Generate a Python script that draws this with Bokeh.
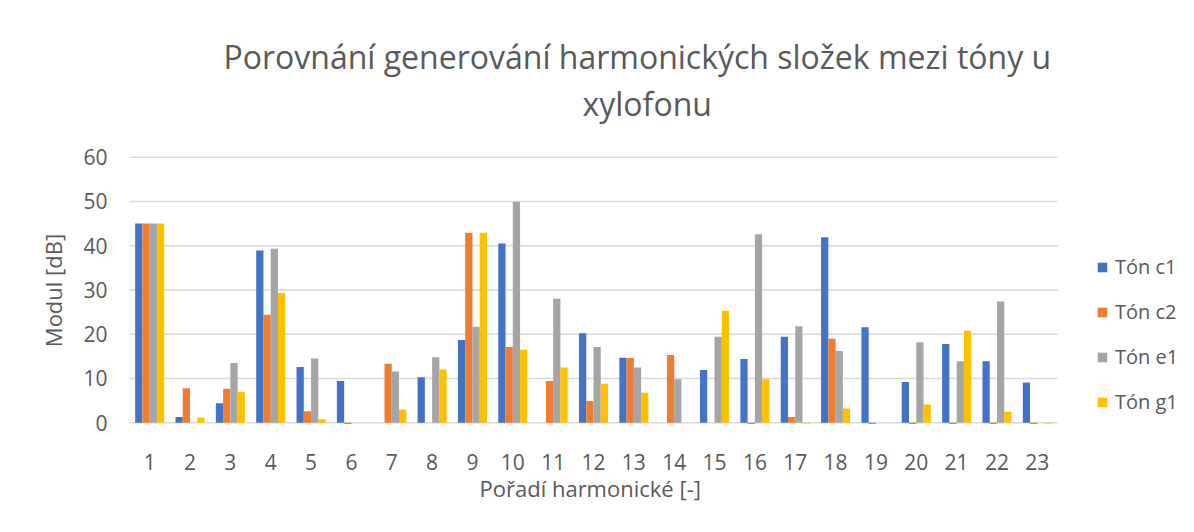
from bokeh.plotting import figure
from bokeh.models import (ColumnDataSource, Range1d, FixedTicker,
                          Legend, LegendItem, Title)
from bokeh.transform import dodge
from bokeh.embed import file_html
from bokeh.resources import INLINE

categories = [str(i) for i in range(1, 24)]
ton_c1 = [45.0, 1.3, 4.4, 38.9, 12.6, 9.4, 0, 10.3, 18.7, 40.5, 0, 20.2, 14.7, 0, 11.9, 14.4, 19.4, 41.9, 21.6, 9.2, 17.8, 13.9, 9.1]
ton_c2 = [45.0, 7.8, 7.7, 24.4, 2.6, -0.3, 13.3, 0, 42.9, 17.1, 9.4, 4.9, 14.6, 15.3, 0, -0.3, 1.3, 19.0, -0.3, -0.3, -0.3, -0.3, -0.3]
ton_e1 = [45.0, 0, 13.5, 39.3, 14.5, 0, 11.6, 14.8, 21.7, 49.9, 28.0, 17.1, 12.5, 9.8, 19.4, 42.6, 21.8, 16.2, 0, 18.2, 13.9, 27.4, 0]
ton_g1 = [45.0, 1.1, 7.0, 29.3, 0.8, 0, 3.0, 12.0, 42.9, 16.5, 12.5, 8.8, 6.8, 0, 25.3, 9.8, -0.2, 3.2, 0, 4.1, 20.8, 2.5, -0.2]
series_names = ["Tón c1", "Tón c2", "Tón e1", "Tón g1"]
colors = ["#4472C4", "#ED7D31", "#A5A5A5", "#FFC000"]
y_ticks = [0, 10, 20, 30, 40, 50, 60]
title_lines = ["Porovnání generování harmonických složek mezi tóny u", "xylofonu"]
x_label = "Pořadí harmonické [-]"
y_label = "Modul [dB]"

FONT = "Open Sans"
TXT = "#595959"
GRID = "#d9d9d9"

x_pos = list(range(1, len(categories) + 1))
src = ColumnDataSource(dict(x=x_pos, c1=ton_c1, c2=ton_c2, e1=ton_e1, g1=ton_g1))

W, H = 1186, 524
LEFT, RIGHT, TOP, BOTTOM = 129, 2, 156, 100
cat_px = 928 / len(categories)              # pixel width of one category slot
x_end = 0.5 + (W - LEFT - RIGHT) / cat_px   # extra room on the right holds the legend

p = figure(width=W, height=H, x_range=Range1d(0.5, x_end),
           y_range=Range1d(-0.4, 60.15), output_backend="svg", toolbar_location=None,
           min_border_left=LEFT, min_border_right=RIGHT, min_border_top=TOP,
           min_border_bottom=BOTTOM)
p.outline_line_color = None
p.background_fill_color = "white"
p.border_fill_color = "white"
p.xgrid.grid_line_color = None
p.ygrid.grid_line_color = None

# horizontal gridlines spanning the category area only
p.segment(x0=[x_pos[0] - 0.5] * len(y_ticks), x1=[x_pos[-1] + 0.5] * len(y_ticks),
          y0=y_ticks, y1=y_ticks, line_color=GRID, line_width=1.5)

cols = ["c1", "c2", "e1", "g1"]
offsets = [-0.27, -0.09, 0.09, 0.27]
renderers = []
for col, off, c in zip(cols, offsets, colors):
    r = p.vbar(x=dodge("x", off), top=col, width=0.18, source=src,
               fill_color=c, line_color=None)
    renderers.append(r)

p.xaxis.ticker = FixedTicker(ticks=x_pos)
p.xaxis.major_label_overrides = {x: c for x, c in zip(x_pos, categories)}
p.yaxis.ticker = FixedTicker(ticks=y_ticks)
for ax in (p.xaxis[0], p.yaxis[0]):
    ax.axis_line_color = None
    ax.major_tick_line_color = None
    ax.minor_tick_line_color = None
    ax.major_tick_out = 0
    ax.major_tick_in = 0
    ax.minor_tick_out = 0
    ax.minor_tick_in = 0
    ax.major_label_text_font = FONT
    ax.major_label_text_font_size = "21px"
    ax.major_label_text_color = TXT
    ax.axis_label_text_font = FONT
    ax.axis_label_text_font_size = "22px"
    ax.axis_label_text_color = TXT
    ax.axis_label_text_font_style = "normal"
p.yaxis.axis_label = y_label
p.xaxis.major_label_standoff = 29
p.yaxis.major_label_standoff = 22
p.yaxis.axis_label_standoff = 12

# x axis title centred under the category area
p.add_layout(Title(text=x_label, align="left", offset=350, vertical_align="top",
                   text_font=FONT, text_font_size="22px", text_font_style="normal",
                   text_color=TXT, standoff=0), "below")

# chart title (two lines); an invisible spacer keeps the gap above the plot area
p.title.text = title_lines[0]
p.title.align = "left"
p.title.offset = 94
p.title.text_font = FONT
p.title.text_font_size = "32px"
p.title.text_font_style = "normal"
p.title.text_color = TXT
p.title.standoff = 2
p.add_layout(Title(text=".", text_font_size="2px", text_color="white", standoff=28), "above")
p.add_layout(Title(text=title_lines[1], align="left", offset=453,
                   text_font=FONT, text_font_size="32px", text_font_style="normal",
                   text_color=TXT, standoff=2), "above")

legend = Legend(items=[LegendItem(label=n, renderers=[r]) for n, r in zip(series_names, renderers)],
                location=(967, 9), orientation="vertical",
                glyph_width=12, glyph_height=12, label_height=27, spacing=18,
                label_text_font=FONT, label_text_font_size="20px", label_text_color=TXT,
                border_line_color=None, background_fill_alpha=0, padding=0, margin=0,
                label_standoff=7)
p.add_layout(legend, "center")

open("out.html", "w").write(file_html(p, INLINE))
